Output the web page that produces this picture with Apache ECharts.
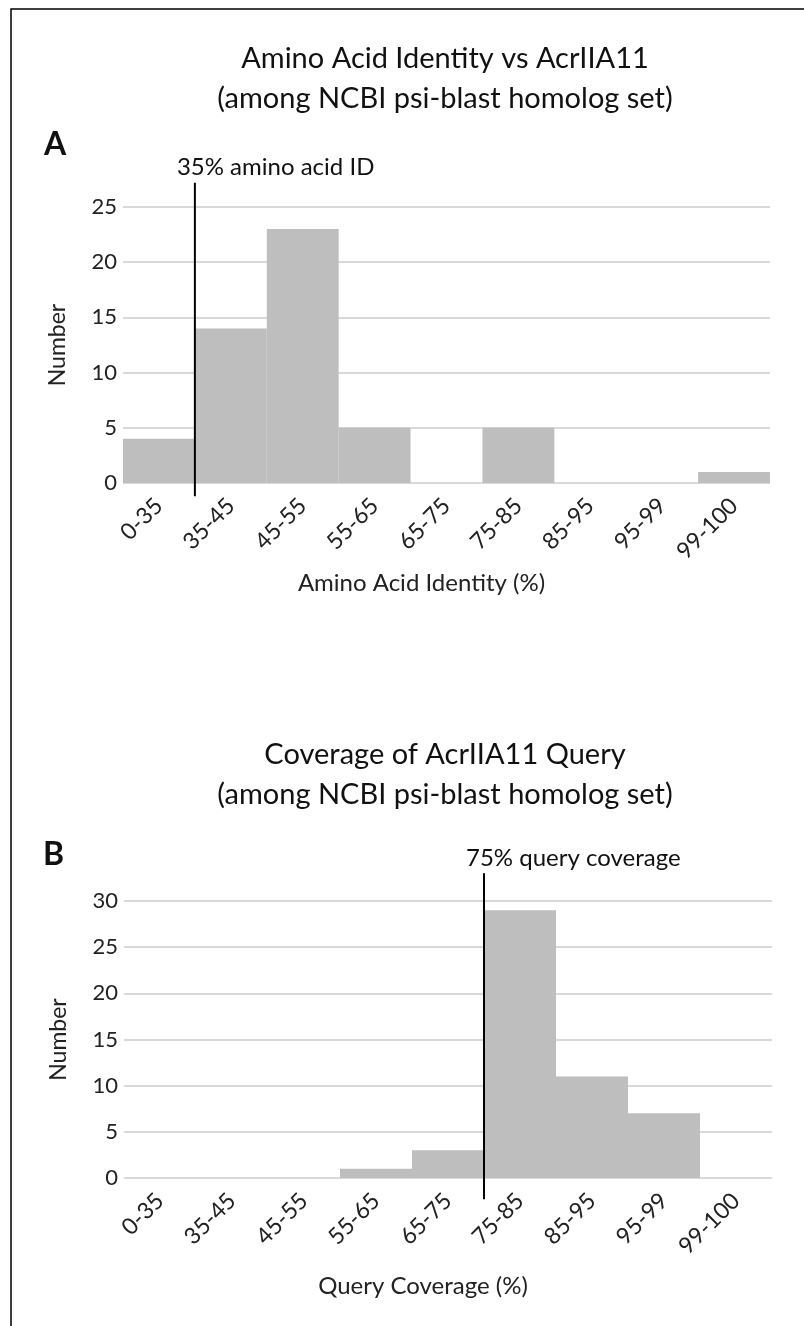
<!DOCTYPE html>
<html>
<head>
<meta charset="utf-8">
<script src="https://cdn.jsdelivr.net/npm/echarts@6/dist/echarts.min.js"></script>
<style>
html,body{margin:0;padding:0;background:#fff;}
#c{width:804px;height:1326px;}
</style>
</head>
<body>
<div id="c"></div>
<script>
var categories = ['0-35','35-45','45-55','55-65','65-75','75-85','85-95','95-99','99-100'];
var identityCounts = [4, 14, 23, 5, 0, 5, 0, 0, 1];
var coverageCounts = [0, 0, 0, 1, 3, 29, 11, 7, 0];
var identityThreshold = 1;   // bin boundary index (35%)
var coverageThreshold = 5;   // bin boundary index (75%)
var identityLabel = '35% amino acid ID';
var coverageLabel = '75% query coverage';
var identityYMax = 25;
var coverageYMax = 30;
var yInterval = 5;

var FONT = 'Lato';
var barColor = '#bfbebf';
var gridColor = '#d9d9d9';

var chart = echarts.init(document.getElementById('c'), null, {renderer:'canvas'});

function catX(gi, name, gap){
  return {
    type:'category', gridIndex:gi, data:categories,
    axisLine:{show:false}, axisTick:{show:false},
    axisLabel:{rotate:45, fontFamily:FONT, fontSize:23, color:'#222', margin:19, interval:0},
    name:name, nameLocation:'middle', nameGap:gap,
    nameTextStyle:{fontFamily:FONT, fontSize:24, color:'#222', padding:[0,50,0,0]}
  };
}
function valY(gi, max){
  return {
    type:'value', gridIndex:gi, min:0, max:max, interval:yInterval,
    axisLine:{show:false}, axisTick:{show:false},
    splitLine:{lineStyle:{color:gridColor, width:2}},
    axisLabel:{fontFamily:FONT, fontSize:22, color:'#222', margin:6},
    name:'Number', nameLocation:'middle', nameGap:54,
    nameTextStyle:{fontFamily:FONT, fontSize:23, color:'#222'}
  };
}
function hidX(gi){
  return {type:'value', gridIndex:gi, min:0, max:categories.length, show:false};
}
function hidY(gi, max){
  return {type:'value', gridIndex:gi, min:0, max:max, show:false};
}
function thresholdSeries(axisIdx, x, lo, hi, text){
  return {type:'line', xAxisIndex:axisIdx, yAxisIndex:axisIdx, clip:false, symbol:'circle', symbolSize:0,
     silent:true, lineStyle:{color:'#000', width:2}, itemStyle:{color:'#000'},
     data:[[x, lo], {value:[x, hi],
       label:{show:true, formatter:text, position:'top', align:'left', offset:[-18,0], distance:3,
              fontFamily:FONT, fontSize:24, color:'#111'}}]};
}

var option = {
  animation:false,
  backgroundColor:'#fff',
  title:[
    {text:'Amino Acid Identity vs AcrIIA11\n(among NCBI psi-blast homolog set)', left:440, top:34, textAlign:'center',
     textStyle:{fontFamily:FONT, fontSize:29, fontWeight:'normal', color:'#111', lineHeight:40}},
    {text:'Coverage of AcrIIA11 Query\n(among NCBI psi-blast homolog set)', left:440, top:730, textAlign:'center',
     textStyle:{fontFamily:FONT, fontSize:29, fontWeight:'normal', color:'#111', lineHeight:40}}
  ],
  graphic:[
    {type:'rect', shape:{x:11, y:9, width:820, height:1340}, style:{fill:'none', stroke:'#000', lineWidth:1.5}, silent:true},
    {type:'text', left:44, top:129, style:{text:'A', fontFamily:FONT, fontSize:32, fontWeight:'bold', fill:'#111'}},
    {type:'text', left:43, top:839, style:{text:'B', fontFamily:FONT, fontSize:32, fontWeight:'bold', fill:'#111'}}
  ],
  grid:[
    {left:123, right:34, top:207, height:276},
    {left:124, right:32, top:901, height:277}
  ],
  xAxis:[catX(0, 'Amino Acid Identity (%)', 88), catX(1, 'Query Coverage (%)', 96), hidX(0), hidX(1)],
  yAxis:[valY(0, identityYMax), valY(1, coverageYMax), hidY(0, identityYMax), hidY(1, coverageYMax)],
  series:[
    {type:'bar', xAxisIndex:0, yAxisIndex:0, data:identityCounts, barCategoryGap:'0%', itemStyle:{color:barColor}},
    {type:'bar', xAxisIndex:1, yAxisIndex:1, data:coverageCounts, barCategoryGap:'0%', itemStyle:{color:barColor}},
    thresholdSeries(2, identityThreshold, -1.2, 27.2, identityLabel),
    thresholdSeries(3, coverageThreshold, -2.3, 33.0, coverageLabel)
  ]
};
chart.setOption(option);
</script>
</body>
</html>
